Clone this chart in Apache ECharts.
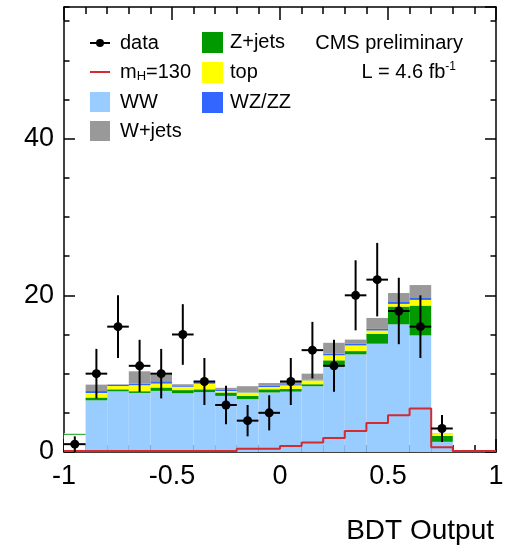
<!DOCTYPE html>
<html>
<head>
<meta charset="utf-8">
<script src="https://cdn.jsdelivr.net/npm/echarts@6/dist/echarts.min.js"></script>
<style>
  html, body { margin: 0; padding: 0; background: #fff; }
  #chart { width: 508px; height: 549px; }
</style>
</head>
<body>
<div id="chart"></div>
<script>
// BDT output histogram: 20 bins from -1 to 1
const binEdges = [-1, -0.9, -0.8, -0.7, -0.6, -0.5, -0.4, -0.3, -0.2, -0.1, 0,
                  0.1, 0.2, 0.3, 0.4, 0.5, 0.6, 0.7, 0.8, 0.9, 1];
const binCenters = [-0.95, -0.85, -0.75, -0.65, -0.55, -0.45, -0.35, -0.25, -0.15, -0.05,
                    0.05, 0.15, 0.25, 0.35, 0.45, 0.55, 0.65, 0.75, 0.85, 0.95];

// Background contributions per bin (events), stacked bottom to top
const ww    = [2.2, 6.6, 7.75, 7.54, 7.8, 7.5, 7.65, 7.16, 6.74, 7.6, 7.7, 8.4, 11.06, 12.46, 13.82, 16.3, 14.88, 1.3, 0, 0];
const zjets = [0.12, 0.35, 0.25, 0.22, 0.43, 0.4, 0.35, 0.43, 0.42, 0.4, 0.35, 0.25, 0.64, 0.42, 1.27, 2.26, 3.81, 0.76, 0, 0];
const topq  = [0.1, 0.58, 0.42, 0.76, 0.5, 0.4, 0.72, 0.2, 0.43, 0.3, 0.45, 0.5, 0.64, 0.72, 0.42, 0.34, 0.72, 0.3, 0, 0];
const wzzz  = [0, 0.25, 0.17, 0.2, 0.3, 0.1, 0.2, 0.2, 0.05, 0.2, 0.15, 0.1, 0.2, 0.2, 0.2, 0.33, 0.25, 0.02, 0, 0];
const wjets = [0, 0.82, 0.05, 1.58, 0.9, 0.25, 0.13, 0.2, 0.76, 0.3, 0.35, 0.75, 1.4, 0.55, 1.4, 1.06, 1.65, 0, 0, 0];

// Higgs signal, m_H = 130
const signal = [0.12, 0.12, 0.12, 0.12, 0.12, 0.12, 0.12, 0.12, 0.42, 0.42, 0.76, 1.2, 1.8, 2.67, 3.7, 4.7, 5.55, 0.6, 0.12, 0.12];

// Observed data and its uncertainty
const dataCounts = [1, 10, 16, 11, 10, 15, 9, 6, 4, 5, 9, 13, 11, 20, 22, 18, 16, 3, 0, 0];
const dataErr    = [1, 3.16, 4, 3.32, 3.16, 3.87, 3, 2.45, 2, 2.24, 3, 3.61, 3.32, 4.47, 4.69, 4.24, 4, 1.73, 0, 0];

// Axis ticks
const xTickLabels = [-1, -0.5, 0, 0.5, 1];
const yTickLabels = [0, 20, 40];

const FONT = 'Liberation Sans, Arial, Helvetica, sans-serif';
const X_MIN = -1, X_MAX = 1, Y_MAX = 56.8;

const colors = {
  ww: '#99ccff', zjets: '#009900', top: '#ffff00', wzzz: '#3366ff',
  wjets: '#999999', signal: '#d42a30', data: '#000000'
};

const chart = echarts.init(document.getElementById('chart'), null, { renderer: 'canvas' });

const frameLine = { show: true, onZero: false, lineStyle: { color: '#000', width: 1.5 } };
const noLine = { show: false, onZero: false };
const tickStyle = { color: '#000', width: 1.5 };

function stackSeries(name, values, color, firstBinColor) {
  return {
    name: name, type: 'bar', stack: 'bkg', xAxisIndex: 2, yAxisIndex: 0,
    barCategoryGap: '0%', barGap: '0%',
    itemStyle: { color: color },
    emphasis: { disabled: true },
    silent: true,
    data: values.map((v, i) => (i === 0 && firstBinColor)
      ? { value: v, itemStyle: { color: firstBinColor } } : v)
  };
}

const pointData = [];
dataCounts.forEach((n, i) => {
  if (n > 0) pointData.push([binCenters[i], n, dataErr[i], (binEdges[i + 1] - binEdges[i]) / 2]);
});

const signalData = binEdges.map((e, i) => [e, signal[Math.min(i, signal.length - 1)]]);

const option = {
  animation: false,
  backgroundColor: '#fff',
  grid: { left: 64, right: 12, top: 7, bottom: 97, containLabel: false },
  xAxis: [
    { // bottom axis with labels
      type: 'value', min: X_MIN, max: X_MAX, interval: 0.5, position: 'bottom',
      axisLine: frameLine,
      axisTick: { show: true, inside: true, length: 13, lineStyle: tickStyle },
      minorTick: { show: true, splitNumber: 5, length: 7, lineStyle: tickStyle },
      axisLabel: { show: true, margin: 11, fontSize: 27, color: '#000', fontFamily: FONT,
        formatter: v => (xTickLabels.indexOf(v) >= 0 ? String(v) : '') },
      splitLine: { show: false }
    },
    { // top frame
      type: 'value', min: X_MIN, max: X_MAX, interval: 0.5, position: 'top',
      axisLine: frameLine,
      axisTick: { show: true, inside: true, length: 13, lineStyle: tickStyle },
      minorTick: { show: true, splitNumber: 5, length: 7, lineStyle: tickStyle },
      axisLabel: { show: false }, splitLine: { show: false }
    },
    { // bins for the stacked histogram
      type: 'category', data: binCenters.map(String), show: false, boundaryGap: true,
      position: 'bottom', axisLine: noLine
    }
  ],
  yAxis: [
    { // left axis, major ticks + labels
      type: 'value', min: 0, max: Y_MAX, interval: 20, position: 'left',
      axisLine: frameLine,
      axisTick: { show: true, inside: true, length: 11, lineStyle: tickStyle },
      axisLabel: { show: true, margin: 10, fontSize: 27, color: '#000', fontFamily: FONT,
        showMaxLabel: false,
        formatter: v => (yTickLabels.indexOf(v) >= 0 ? String(v) : '') },
      splitLine: { show: false }
    },
    { // left axis, minor ticks
      type: 'value', min: 0, max: Y_MAX, interval: 5, position: 'left',
      axisLine: noLine,
      axisTick: { show: true, inside: true, length: 5.5, lineStyle: tickStyle },
      axisLabel: { show: false }, splitLine: { show: false }
    },
    { // right frame, major ticks
      type: 'value', min: 0, max: Y_MAX, interval: 20, position: 'right',
      axisLine: frameLine,
      axisTick: { show: true, inside: true, length: 11, lineStyle: tickStyle },
      axisLabel: { show: false }, splitLine: { show: false }
    },
    { // right frame, minor ticks
      type: 'value', min: 0, max: Y_MAX, interval: 5, position: 'right',
      axisLine: noLine,
      axisTick: { show: true, inside: true, length: 5.5, lineStyle: tickStyle },
      axisLabel: { show: false }, splitLine: { show: false }
    }
  ],
  legend: [
    {
      orient: 'vertical', left: 90, top: 33, padding: 0,
      itemWidth: 20, itemHeight: 20, itemGap: 9,
      textStyle: { fontSize: 20, fontFamily: FONT, color: '#000', padding: [0, 0, 0, 5],
        rich: {
          m: { fontSize: 20, fontFamily: FONT, color: '#000' },
          h: { fontSize: 13, fontFamily: FONT, color: '#000', padding: [9, 0, 0, 0] }
        } },
      formatter: name => (name === 'mH=130' ? '{m|m}{h|H}{m|=130}' : name),
      selectedMode: false,
      data: [
        { name: 'data', icon: 'path://M0,3 L20,3 L20,5 L0,5 Z M14,4 A4,4 0 1,1 6,4 A4,4 0 1,1 14,4 Z' },
        { name: 'mH=130', icon: 'path://M0,0 L20,0 L20,2 L0,2 Z' },
        { name: 'WW', icon: 'rect' },
        { name: 'W+jets', icon: 'rect' }
      ]
    },
    {
      orient: 'vertical', left: 202, top: 32, padding: 0,
      itemWidth: 21, itemHeight: 21, itemGap: 9,
      textStyle: { fontSize: 20, fontFamily: FONT, color: '#000', padding: [0, 0, 0, 2] },
      selectedMode: false,
      data: [
        { name: 'Z+jets', icon: 'rect' },
        { name: 'top', icon: 'rect' },
        { name: 'WZ/ZZ', icon: 'rect' }
      ]
    }
  ],
  graphic: [
    { type: 'text', silent: true, z: 100,
      style: { text: 'CMS preliminary', x: 463, y: 43, align: 'right', verticalAlign: 'middle',
        fontSize: 20, fontFamily: FONT, fill: '#000' } },
    { type: 'text', silent: true, z: 100,
      style: { text: '{a|L = 4.6 fb}{s|-1}', x: 456, y: 72, align: 'right', verticalAlign: 'middle',
        fontSize: 20, fontFamily: FONT, fill: '#000',
        rich: {
          a: { fontSize: 20, fontFamily: FONT, fill: '#000' },
          s: { fontSize: 12, fontFamily: FONT, fill: '#000', padding: [0, 0, 10, 0] }
        } } },
    { type: 'text', silent: true, z: 100,
      style: { text: 'BDT Output', x: 494, y: 531, align: 'right', verticalAlign: 'middle',
        fontSize: 28, fontFamily: FONT, fill: '#000' } }
  ],
  series: [
    stackSeries('WW', ww, colors.ww, '#ffffff'),
    stackSeries('Z+jets', zjets, colors.zjets),
    stackSeries('top', topq, colors.top),
    stackSeries('WZ/ZZ', wzzz, colors.wzzz),
    stackSeries('W+jets', wjets, colors.wjets),
    {
      name: 'mH=130', type: 'line', xAxisIndex: 0, yAxisIndex: 0,
      step: 'end', showSymbol: false, silent: true, z: 5,
      lineStyle: { color: colors.signal, width: 2 },
      itemStyle: { color: colors.signal },
      data: signalData
    },
    {
      name: 'data', type: 'custom', xAxisIndex: 0, yAxisIndex: 0, z: 10, silent: true,
      itemStyle: { color: colors.data },
      encode: { x: 0, y: 1 },
      renderItem: function (params, api) {
        const x = api.value(0), y = api.value(1), e = api.value(2), hw = api.value(3);
        const c = api.coord([x, y]);
        const lo = api.coord([x, y - e]);
        const hi = api.coord([x, y + e]);
        const l = api.coord([x - hw, y]);
        const r = api.coord([x + hw, y]);
        return {
          type: 'group',
          children: [
            { type: 'line', shape: { x1: c[0], y1: lo[1], x2: c[0], y2: hi[1] },
              style: { stroke: '#000', lineWidth: 2 } },
            { type: 'line', shape: { x1: l[0], y1: c[1], x2: r[0], y2: c[1] },
              style: { stroke: '#000', lineWidth: 2 } },
            { type: 'circle', shape: { cx: c[0], cy: c[1], r: 4.5 },
              style: { fill: '#000' } }
          ]
        };
      },
      data: pointData
    }
  ]
};

chart.setOption(option);
</script>
</body>
</html>
